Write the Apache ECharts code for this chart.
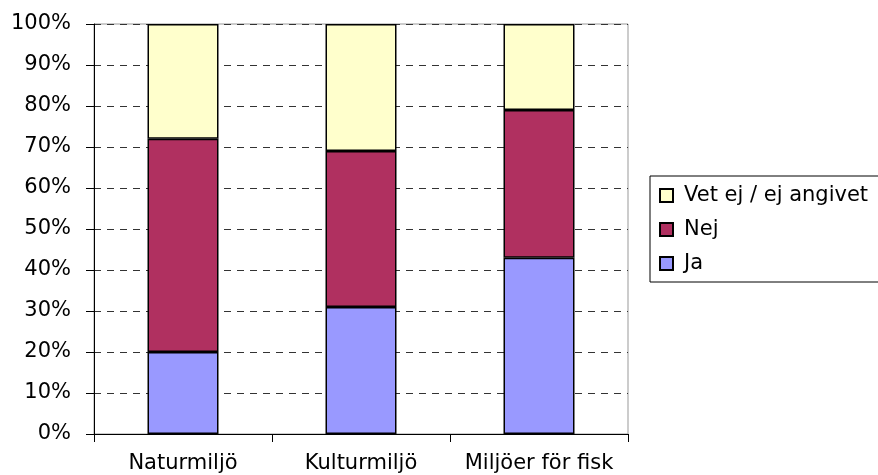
<!DOCTYPE html>
<html><head><meta charset="utf-8">
<script src="https://cdn.jsdelivr.net/npm/echarts@6/dist/echarts.min.js"></script>
<style>html,body{margin:0;padding:0;background:#fff}#c{width:878px;height:475px}</style>
</head><body><div id="c"></div>
<script>
const categories = ['Naturmiljö', 'Kulturmiljö', 'Miljöer för fisk'];
const ja = [20, 31, 43];
const nej = [52, 38, 36];
const vetEj = [28, 31, 21];
const seriesNames = ['Ja', 'Nej', 'Vet ej / ej angivet'];
const legendOrder = ['Vet ej / ej angivet', 'Nej', 'Ja'];
const colors = ['#9999FF', '#B03060', '#FFFFCC'];
const values = [ja, nej, vetEj];

const chart = echarts.init(document.getElementById('c'));
const font = 'DejaVu Sans, sans-serif';
chart.setOption({
  animation: false,
  grid: { left: 94, right: 250, top: 24, bottom: 41, show: true, borderColor: '#999', borderWidth: 1, backgroundColor: '#fff' },
  legend: {
    orient: 'vertical', left: 650, top: 176,
    data: legendOrder,
    itemWidth: 13, itemHeight: 13, itemGap: 13,
    borderColor: '#000', borderWidth: 1,
    padding: [9, 40, 8, 9],
    textStyle: { fontFamily: font, fontSize: 21, color: '#000', padding: [0, 0, 0, 6] },
    icon: 'rect'
  },
  xAxis: {
    type: 'category', data: categories,
    axisLine: { lineStyle: { color: '#000', width: 1 } },
    axisTick: { show: true, length: 8, lineStyle: { color: '#000' } },
    axisLabel: { fontFamily: font, fontSize: 21, color: '#000', margin: 19, interval: 0, hideOverlap: false }
  },
  yAxis: {
    type: 'value', min: 0, max: 100, interval: 10,
    axisLine: { show: true, lineStyle: { color: '#000', width: 1 } },
    axisTick: { show: true, length: 8, lineStyle: { color: '#000' } },
    axisLabel: { formatter: '{value}%', fontFamily: font, fontSize: 21, color: '#000', margin: 23 },
    splitLine: { show: true, lineStyle: { color: '#333', type: [7, 6], width: 1 } }
  },
  series: seriesNames.map((n, i) => ({
    name: n, type: 'bar', stack: 'a', data: values[i], barWidth: 71,
    itemStyle: { color: colors[i], borderColor: '#000', borderWidth: 1.5 }
  }))
});
</script></body></html>
